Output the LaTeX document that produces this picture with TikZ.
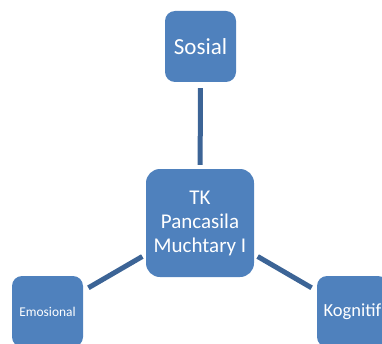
\documentclass[tikz,border=0pt]{standalone}
\usepackage{fontspec}
\setmainfont{Carlito}
\definecolor{boxblue}{HTML}{4F81BD}
\definecolor{linkblue}{HTML}{3C6496}
\begin{document}
\begin{tikzpicture}[x=1pt,y=1pt,
  box/.style={rectangle, rounded corners=10pt, fill=boxblue, text=white, minimum width=71pt, minimum height=71pt, inner sep=0pt, align=center},
  link/.style={draw=linkblue, line width=5pt, shorten <=4pt, shorten >=6pt}]
\useasboundingbox (0,0) rectangle (382,343);
\node[box, rounded corners=14pt, minimum width=108pt, minimum height=108pt, font=\fontsize{21}{24}\selectfont] (hub) at (200,120){TK\\Pancasila\\Muchtary I};
\node[box, font=\fontsize{23}{27}\selectfont] (sosial) at (200.5,296.5){Sosial};
\node[box, font=\fontsize{13.4}{16}\selectfont] (emosional) at (47.5,31.5){Emosional};
\node[box, font=\fontsize{18.5}{22}\selectfont] (kognitif) at (352.5,31.5){Kognitif};
\draw[link](hub) -- (sosial);
\draw[link](hub) -- (emosional);
\draw[link](hub) -- (kognitif);
\end{tikzpicture}
\end{document}
